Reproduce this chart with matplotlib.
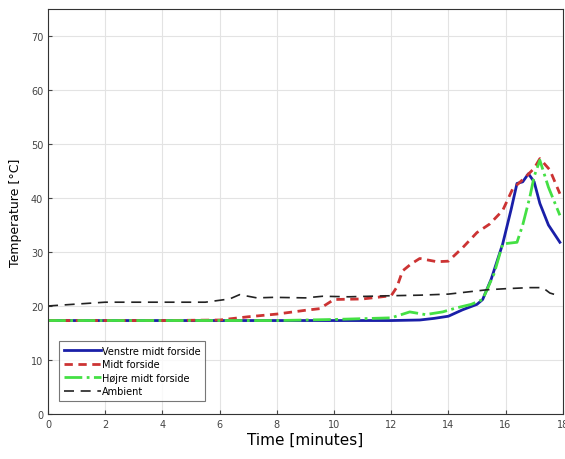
import matplotlib.pyplot as plt
import numpy as np

# data (time in minutes, temperature in degC)
t_venstre = [0, 2, 4, 6, 8, 10, 12, 13, 13.5, 14, 14.5, 15.0, 15.2, 15.5, 15.9, 16.2, 16.4, 16.6, 16.8, 17.0, 17.2, 17.5, 17.9]
venstre = [17.3, 17.3, 17.3, 17.3, 17.3, 17.3, 17.3, 17.4, 17.7, 18.1, 19.3, 20.3, 21.2, 25.0, 31.5, 38.0, 42.7, 43.0, 44.5, 43.0, 39.0, 35.0, 31.8]

t_midt = [0, 2, 4, 6, 7, 8, 9, 9.5, 10, 11, 12, 12.2, 12.4, 12.7, 13.0, 13.3, 13.6, 14.0, 14.5, 15.0, 15.45, 15.9, 16.25, 16.7, 17.0, 17.2, 17.55, 17.9]
midt = [17.3, 17.3, 17.3, 17.4, 18.0, 18.5, 19.2, 19.5, 21.2, 21.3, 21.9, 23.5, 26.5, 27.8, 28.8, 28.5, 28.2, 28.3, 30.8, 33.6, 35.2, 37.7, 41.7, 43.9, 45.5, 47.3, 45.2, 40.8]

t_hojre = [0, 2, 4, 6, 8, 10, 12, 12.65, 13.2, 13.8, 14.25, 14.8, 15.2, 15.6, 15.9, 16.4, 16.6, 16.85, 17.0, 17.2, 17.5, 17.9]
hojre = [17.3, 17.3, 17.3, 17.3, 17.3, 17.5, 17.8, 18.9, 18.4, 18.9, 19.6, 20.3, 21.2, 26.0, 31.5, 31.8, 35.0, 40.2, 44.0, 47.0, 42.0, 36.8]

t_ambient = [0, 2, 4, 5.5, 6.35, 6.7, 7.3, 7.9, 9.0, 9.6, 10.5, 12, 13, 14, 15.35, 16.0, 16.85, 17.3, 17.55, 17.8]
ambient = [20.0, 20.7, 20.7, 20.7, 21.3, 22.1, 21.5, 21.6, 21.5, 21.8, 21.7, 21.9, 22.0, 22.2, 23.0, 23.2, 23.4, 23.4, 22.4, 22.0]

labels = ["Venstre midt forside", "Midt forside", "H\u00f8jre midt forside", "Ambient"]

fig = plt.figure(figsize=(5.65, 4.6), dpi=100)
ax = fig.add_axes([0.085, 0.098, 0.911, 0.880])

ax.plot(t_venstre, venstre, color="#1a1fa8", linestyle="-", linewidth=2, label=labels[0])
ax.plot(t_midt, midt, color="#cc3333", linestyle=(0, (3, 2)), linewidth=2, label=labels[1])
ax.plot(t_hojre, hojre, color="#44e044", linestyle="-.", linewidth=2, label=labels[2])
ax.plot(t_ambient, ambient, color="#222222", linestyle=(0, (6, 4)), linewidth=1.2, label=labels[3])

ax.set_xlim(0, 18)
ax.set_ylim(0, 75)
ax.set_xticks(np.arange(0, 19, 2))
ax.set_yticks(np.arange(0, 71, 10))
ax.grid(True, color="#e3e3e3", linewidth=0.8)
ax.tick_params(direction="in", labelsize=7, colors="#444444", length=3)
for s in ax.spines.values():
    s.set_color("#333333")

ax.set_xlabel("Time [minutes]", fontsize=11, labelpad=2)
ax.set_ylabel("Temperature [\u00b0C]", fontsize=9, labelpad=6)

leg = ax.legend(loc="lower left", bbox_to_anchor=(0.012, 0.02), fontsize=7,
                frameon=True, fancybox=False, edgecolor="#555555", handlelength=3.8,
                handletextpad=0.1, labelspacing=0.35, borderpad=0.5)
leg.get_frame().set_linewidth(0.8)

fig.savefig("out.png", dpi=100)
